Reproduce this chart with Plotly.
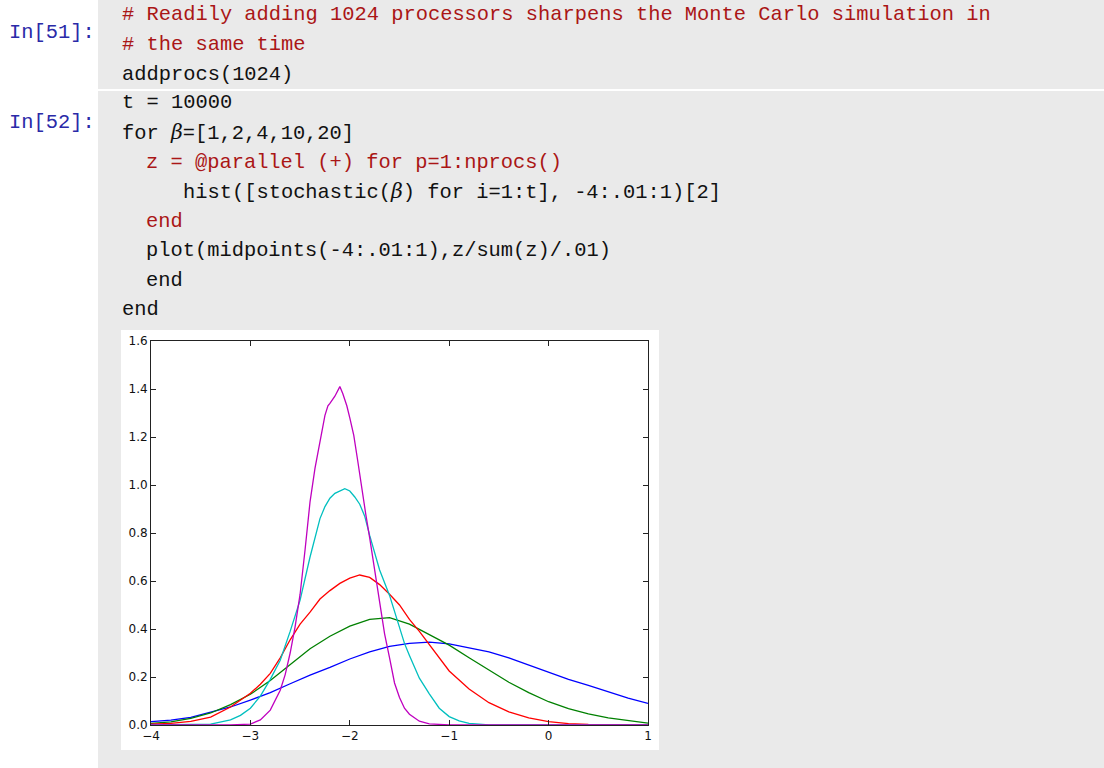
import plotly.graph_objects as go

# ---------------- data ----------------
beta_values = [1, 2, 4, 10, 20]
line_colors = ["#0000FF", "#008000", "#FF0000", "#00BFBF", "#BF00BF"]

x_beta1 = [-4.0, -3.8, -3.6, -3.4, -3.2, -3.0, -2.8, -2.6, -2.4, -2.2, -2.0, -1.8, -1.6,
           -1.4, -1.2, -1.0, -0.8, -0.6, -0.4, -0.2, 0.0, 0.2, 0.4, 0.6, 0.8, 1.0]
y_beta1 = [0.014, 0.020, 0.032, 0.052, 0.075, 0.104, 0.135, 0.172, 0.208, 0.240, 0.275, 0.305, 0.328,
           0.340, 0.345, 0.338, 0.322, 0.305, 0.280, 0.250, 0.218, 0.190, 0.165, 0.137, 0.112, 0.090]

x_beta2 = [-4.0, -3.8, -3.6, -3.4, -3.2, -3.0, -2.8, -2.6, -2.4, -2.2, -2.0, -1.8, -1.6,
           -1.4, -1.2, -1.0, -0.8, -0.6, -0.4, -0.2, 0.0, 0.2, 0.4, 0.6, 0.8, 1.0]
y_beta2 = [0.007, 0.013, 0.028, 0.050, 0.085, 0.128, 0.185, 0.250, 0.318, 0.370, 0.412, 0.440, 0.447,
           0.420, 0.378, 0.333, 0.280, 0.228, 0.178, 0.135, 0.097, 0.068, 0.046, 0.030, 0.018, 0.008]

x_beta4 = [-4.0, -3.8, -3.6, -3.4, -3.2, -3.0, -2.9, -2.8, -2.7, -2.6, -2.5, -2.4, -2.3, -2.2, -2.1,
           -2.0, -1.9, -1.8, -1.7, -1.6, -1.5, -1.4, -1.3, -1.2, -1.1, -1.0, -0.8, -0.6, -0.4,
           -0.2, 0.0, 0.2, 0.4, 0.6, 0.8, 1.0]
y_beta4 = [0.004, 0.007, 0.015, 0.033, 0.075, 0.132, 0.170, 0.215, 0.280, 0.355, 0.420, 0.470, 0.525,
           0.560, 0.590, 0.612, 0.625, 0.615, 0.585, 0.545, 0.500, 0.440, 0.390, 0.335, 0.280, 0.225,
           0.150, 0.093, 0.055, 0.030, 0.014, 0.006, 0.002, 0.001, 0.0, 0.0]

x_beta10 = [-4.0, -3.6, -3.4, -3.2, -3.1, -3.0, -2.9, -2.8, -2.7, -2.6, -2.5, -2.4, -2.35, -2.3,
            -2.25, -2.2, -2.15, -2.1, -2.05, -2.0, -1.95, -1.9, -1.85, -1.8, -1.75, -1.7, -1.6,
            -1.5, -1.45, -1.4, -1.3, -1.2, -1.1, -1.0, -0.9, -0.8, -0.7, -0.6, 1.0]
y_beta10 = [0.0, 0.001, 0.004, 0.021, 0.040, 0.070, 0.120, 0.190, 0.270, 0.390, 0.520, 0.700, 0.780,
            0.860, 0.910, 0.945, 0.965, 0.975, 0.985, 0.975, 0.950, 0.920, 0.870, 0.790, 0.720, 0.646,
            0.540, 0.400, 0.340, 0.290, 0.195, 0.130, 0.070, 0.035, 0.017, 0.007, 0.002, 0.0, 0.0]

x_beta20 = [-4.0, -3.2, -3.0, -2.9, -2.8, -2.7, -2.65, -2.6, -2.55, -2.5, -2.45, -2.4, -2.35, -2.3,
            -2.25, -2.22, -2.2, -2.15, -2.1, -2.07, -2.03, -2.0, -1.96, -1.92, -1.88, -1.84, -1.8,
            -1.75, -1.7, -1.65, -1.6, -1.55, -1.5, -1.45, -1.4, -1.3, -1.2, -1.1, -1.0, 1.0]
y_beta20 = [0.0, 0.0, 0.004, 0.021, 0.062, 0.145, 0.210, 0.300, 0.410, 0.545, 0.730, 0.930, 1.070,
            1.180, 1.290, 1.330, 1.340, 1.370, 1.410, 1.380, 1.330, 1.280, 1.207, 1.100, 0.985, 0.880,
            0.780, 0.650, 0.510, 0.380, 0.280, 0.175, 0.115, 0.070, 0.045, 0.016, 0.005, 0.001, 0.0, 0.0]

x_ticks = [-4, -3, -2, -1, 0, 1]
y_ticks = [0.0, 0.2, 0.4, 0.6, 0.8, 1.0, 1.2, 1.4, 1.6]

cell51_lines = [
    ("# Readily adding 1024 processors sharpens the Monte Carlo simulation in", 0, "red"),
    ("# the same time", 0, "red"),
    ("addprocs(1024)", 0, "black"),
]
cell52_lines = [
    ("t = 10000", 0, "black"),
    ("for <span style=\"font-family:'DejaVu Serif'\"><i>β</i></span>=[1,2,4,10,20]", 0, "black"),
    ("z = @parallel (+) for p=1:nprocs()", 2, "red"),
    ("hist([stochastic(<span style=\"font-family:'DejaVu Serif'\"><i>β</i></span>) for i=1:t], -4:.01:1)[2]", 5, "black"),
    ("end", 2, "red"),
    ("plot(midpoints(-4:.01:1),z/sum(z)/.01)", 2, "black"),
    ("end", 2, "black"),
    ("end", 0, "black"),
]

# ---------------- page geometry (pixels) ----------------
W, H = 1104, 768
PL, PR, PT, PB = 151, 648, 341, 725  # plot area in page pixels

def px(xp):
    return (xp - PL) / (PR - PL)

def py(yp):
    return (PB - yp) / (PB - PT)

GREY = "#EAEAEA"
CODE_RED = "#AA1616"
CODE_BLACK = "#111111"
PROMPT_BLUE = "#2A2AA8"
MONO = "Liberation Mono"
FS = 20.4
CHAR_W = 12.24

fig = go.Figure()
series = [(x_beta1, y_beta1), (x_beta2, y_beta2), (x_beta4, y_beta4),
          (x_beta10, y_beta10), (x_beta20, y_beta20)]
for (xs, ys), b, c in zip(series, beta_values, line_colors):
    fig.add_trace(go.Scatter(x=xs, y=ys, mode="lines", name=f"β={b}",
                             line=dict(color=c, width=1.3), hoverinfo="skip",
                             showlegend=False))

shapes = [
    dict(type="rect", xref="paper", yref="paper", x0=px(98), x1=px(W), y0=py(0), y1=py(89),
         fillcolor=GREY, line=dict(width=0), layer="below"),
    dict(type="rect", xref="paper", yref="paper", x0=px(98), x1=px(W), y0=py(91), y1=py(H),
         fillcolor=GREY, line=dict(width=0), layer="below"),
    dict(type="rect", xref="paper", yref="paper", x0=px(121), x1=px(659), y0=py(330), y1=py(750),
         fillcolor="white", line=dict(width=0), layer="below"),
]

annotations = []

def add_text(text, xpix, ypix, color):
    annotations.append(dict(text=text, x=px(xpix), y=py(ypix), xref="paper", yref="paper",
                            xanchor="left", yanchor="middle", showarrow=False, borderpad=0,
                            font=dict(family=MONO, size=FS, color=color)))

add_text("In[51]:", 8, 32, PROMPT_BLUE)
add_text("In[52]:", 8, 122, PROMPT_BLUE)

col = {"red": CODE_RED, "black": CODE_BLACK}
y0_51, y0_52, LS = 14, 103, 29.5
for i, (t, ind, c) in enumerate(cell51_lines):
    add_text(t, 121 + ind * CHAR_W, y0_51 + i * 30, col[c])
for i, (t, ind, c) in enumerate(cell52_lines):
    add_text(t, 121 + ind * CHAR_W, y0_52 + i * LS, col[c])

axis_common = dict(showline=True, linecolor="#222222", linewidth=1, mirror="ticks",
                   ticks="inside", ticklen=5, tickwidth=1, tickcolor="#222222",
                   showgrid=False, zeroline=False,
                   tickfont=dict(family="DejaVu Sans", size=12, color="#111111"))

fig.update_layout(
    width=W, height=H, autosize=False,
    margin=dict(l=PL, r=W - PR, t=PT, b=H - PB, pad=0),
    paper_bgcolor="white", plot_bgcolor="white",
    xaxis=dict(range=[-4, 1], tickmode="array", tickvals=x_ticks,
               ticktext=[("−" + str(-v)) if v < 0 else str(v) for v in x_ticks], **axis_common),
    yaxis=dict(range=[0, 1.6], tickmode="array", tickvals=y_ticks,
               ticktext=[f"{v:.1f}" for v in y_ticks], **axis_common),
    shapes=shapes, annotations=annotations,
)

fig.write_html("out.html", include_plotlyjs=True, config={"displayModeBar": False},
               post_script="document.body.style.margin='0';document.body.style.overflow='hidden';")
